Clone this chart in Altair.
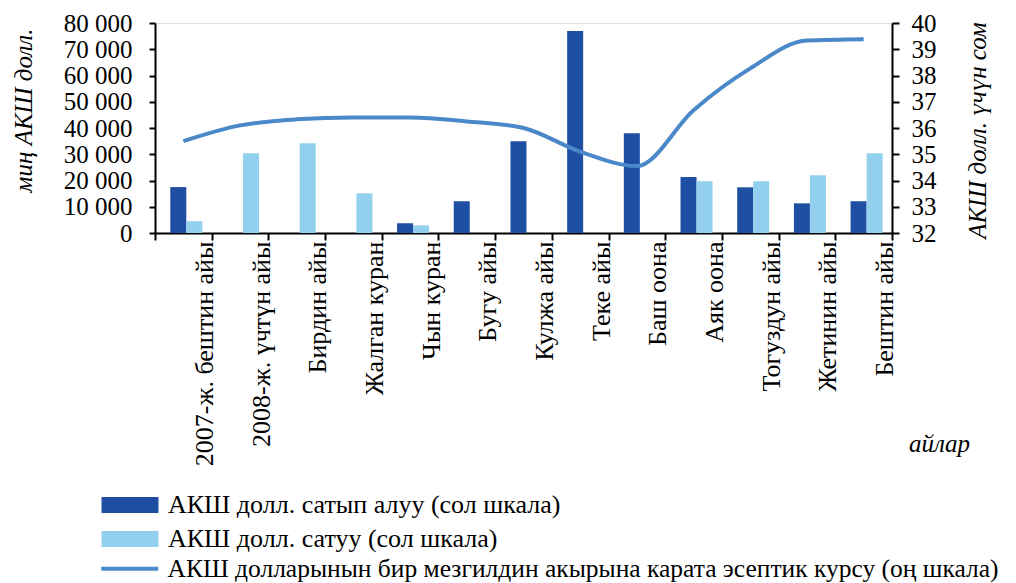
import altair as alt
import pandas as pd

months = ["2007-ж. бештин айы", "2008-ж. үчтүн айы", "Бирдин айы", "Жалган куран",
          "Чын куран", "Бугу айы", "Кулжа айы", "Теке айы", "Баш оона", "Аяк оона",
          "Тогуздун айы", "Жетинин айы", "Бештин айы"]
buy = [17500, 0, 0, 0, 3700, 12100, 35000, 77000, 38000, 21300, 17400, 11300, 12100]
sell = [4500, 30400, 34200, 15100, 2900, 0, 0, 0, 0, 19700, 19700, 22000, 30400]
rate = [35.5, 36.1, 36.33, 36.4, 36.4, 36.25, 36.0, 35.1, 34.55, 36.68, 38.27, 39.33, 39.38]

S_BUY = "АКШ долл. сатып алуу (сол шкала)"
S_SELL = "АКШ долл. сатуу (сол шкала)"
S_LINE = "АКШ долларынын бир мезгилдин акырына карата эсептик курсу (оң шкала)"

C_BUY = "#1f4fa3"
C_SELL = "#92d0ee"
C_LINE = "#4a88c9"
FONT = "Liberation Serif"

bars_df = pd.DataFrame(
    [{"month": m, "series": S_BUY, "value": v} for m, v in zip(months, buy)]
    + [{"month": m, "series": S_SELL, "value": v} for m, v in zip(months, sell)]
)
line_df = pd.DataFrame({"month": months, "series": S_LINE, "rate": rate})

x_enc = alt.X(
    "month:N", sort=months, title="айлар",
    scale=alt.Scale(paddingInner=0, paddingOuter=0),
    axis=alt.Axis(
        labelAngle=-90, labelAlign="right", labelBaseline="middle",
        labelFont=FONT, labelFontSize=26, labelColor="black", labelOffset=21,
        labelPadding=1, labelLimit=400,
        tickBand="extent", tickSize=7, tickWidth=2, tickColor="black",
        domainColor="black", domainWidth=2,
        titleFont=FONT, titleFontSize=25, titleFontStyle="italic", titleFontWeight="normal",
        titleColor="black", titleX=784, titleY=210, titleAlign="center",
        titleBaseline="middle", titleAngle=0,
    ),
)

bars = alt.Chart(bars_df).mark_bar().encode(
    x=x_enc,
    xOffset=alt.XOffset("series:N", sort=[S_BUY, S_SELL],
                        scale=alt.Scale(paddingInner=0, paddingOuter=0.77, align=0.62)),
    y=alt.Y(
        "value:Q", title="миң АКШ долл.",
        scale=alt.Scale(domain=[0, 80000], nice=False, zero=True),
        axis=alt.Axis(
            orient="left", values=list(range(0, 80001, 10000)),
            labelExpr="replace(format(datum.value, ',d'), ',', ' ')",
            labelFont=FONT, labelFontSize=25, labelColor="black", labelPadding=17,
            tickSize=6, tickWidth=2, tickColor="black",
            domainColor="black", domainWidth=2, grid=False,
            titleFont=FONT, titleFontSize=25, titleFontStyle="italic",
            titleFontWeight="normal", titleColor="black",
            titleX=-132, titleY=87, titleAngle=-90, titleAlign="center",
            titleBaseline="middle",
        ),
    ),
    color=alt.Color(
        "series:N",
        scale=alt.Scale(domain=[S_BUY, S_SELL], range=[C_BUY, C_SELL]),
        legend=alt.Legend(
            orient="none", legendX=-38, legendY=469, title=None,
            symbolType="M-3.56,-1H3.56V1H-3.56Z", symbolSize=256,
            symbolStrokeWidth=0, symbolOpacity=1,
            labelFont=FONT, labelFontSize=26, labelColor="black", labelOffset=25,
            labelLimit=1000, rowPadding=8, padding=0, direction="vertical",
        ),
    ),
)

line = alt.Chart(line_df).mark_line(strokeWidth=4, interpolate="monotone").encode(
    x=alt.X("month:N", sort=months),
    y=alt.Y(
        "rate:Q", title="АКШ долл. үчүн сом",
        scale=alt.Scale(domain=[32, 40], nice=False, zero=False),
        axis=alt.Axis(
            orient="right", values=list(range(32, 41)),
            labelFont=FONT, labelFontSize=25, labelColor="black", labelPadding=12,
            tickSize=7, tickWidth=2, tickColor="black",
            domainColor="black", domainWidth=2, grid=False,
            titleFont=FONT, titleFontSize=25, titleFontStyle="italic",
            titleFontWeight="normal", titleColor="black",
            titleX=85, titleY=107, titleAngle=-90, titleAlign="center",
            titleBaseline="middle",
        ),
    ),
    stroke=alt.Stroke(
        "series:N",
        scale=alt.Scale(domain=[S_LINE], range=[C_LINE]),
        legend=alt.Legend(
            orient="none", legendX=-38, legendY=533, title=None,
            symbolType="M-3.56,0H3.56", symbolSize=256, symbolStrokeWidth=4,
            labelFont=FONT, labelFontSize=25.5, labelColor="black", labelOffset=25,
            labelLimit=1000, padding=0,
        ),
    ),
)

chart = (
    alt.layer(bars, line)
    .resolve_scale(y="independent")
    .properties(
        width=737, height=210,
        autosize=alt.AutoSizeParams(type="none"),
        padding={"left": 147, "top": 15, "right": 116, "bottom": 350},
    )
    .configure_view(stroke=None)
    .configure(background="white")
)

chart.save("out.html", embed_options={"renderer": "svg", "actions": False})
